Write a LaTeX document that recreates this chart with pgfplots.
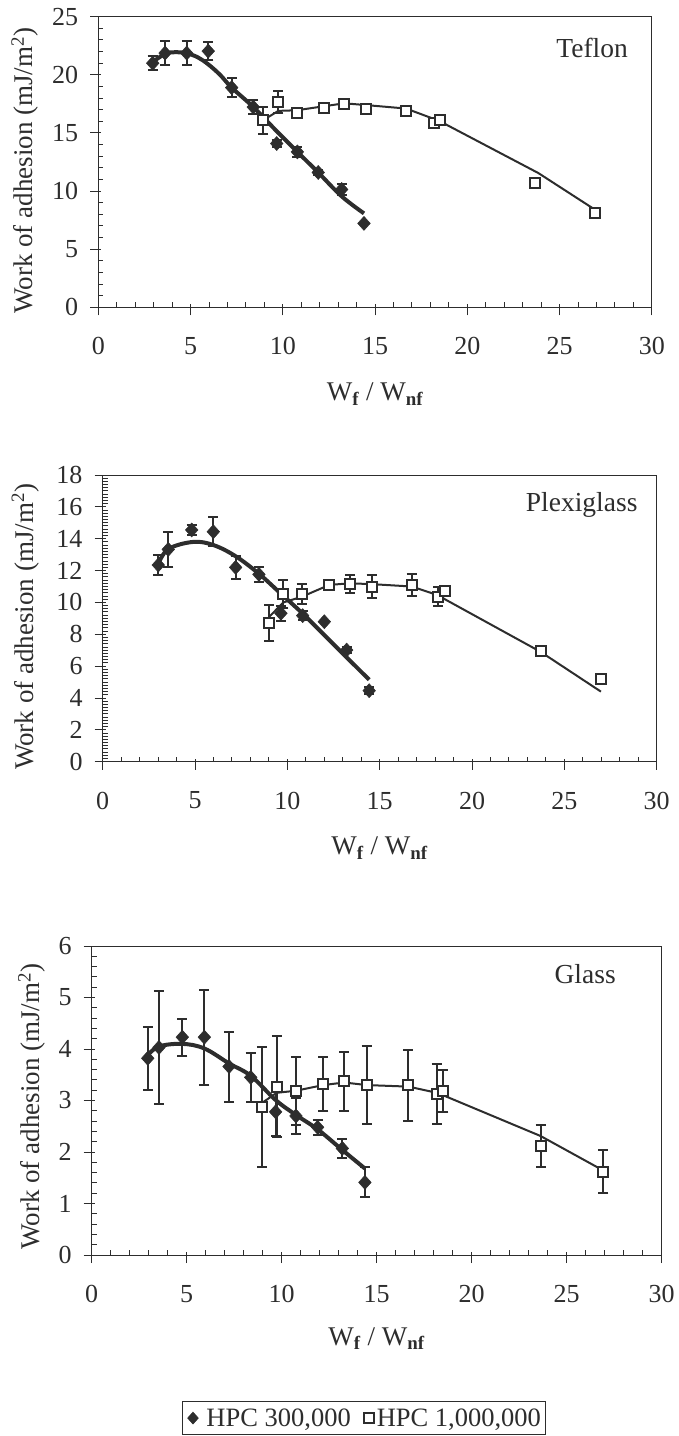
\documentclass[border=0pt]{standalone}
\usepackage{fontspec}
\setmainfont{Liberation Serif}
\usepackage{pgfplots}
\pgfplotsset{compat=1.18}
\definecolor{ink}{RGB}{45,45,45}
\pgfplotsset{
 panel/.style={
  scale only axis, xmin=0, xmax=30, ymin=0, anchor=south west,
  xtick={0,5,...,30}, minor x tick num=4,
  xtick pos=left, ytick pos=left,
  tick align=inside, major tick length=11pt, minor tick length=5pt,
  every major x tick/.append style={yshift=-8pt},
  every major y tick/.append style={xshift=-8pt},
  tick style={ink, line width=1pt},
  axis line style={ink, line width=1pt},
  font=\fontsize{26}{31}\selectfont,
  /pgf/number format/assume math mode=true,
  xticklabel style={inner sep=0pt, yshift=-30pt},
  yticklabel style={inner sep=0pt, xshift=-20pt},
  xlabel={W\textsubscript{\textbf{f}} / W\textsubscript{\textbf{nf}}},
  ylabel={Work of adhesion (mJ/m\textsuperscript{2})},
  label style={font=\fontsize{27}{32}\selectfont, text=ink},
  ticklabel style={text=ink},
 },
 fitA/.style={ink, line width=4pt, smooth, tension=0.6, no marks, forget plot},
 fitB/.style={ink, line width=2pt, no marks, forget plot},
 ptsA/.style={only marks, mark=diamond*, mark size=7pt, mark options={draw=ink, fill=ink, line width=0.5pt, xscale=1.2},
   legend image code/.code={\path (0pt,0pt) (18pt,0pt); \draw[##1, mark size=6pt] plot coordinates {(7pt,0pt)};},
   error bars/.cd, y dir=both, y explicit, error bar style={ink, line width=2pt},
   error mark options={ink, rotate=90, mark size=5pt, line width=2pt}},
 ptsB/.style={only marks, mark=square*, mark size=5pt, mark options={draw=ink, fill=white, line width=2pt},
   legend image code/.code={\path (0pt,0pt) (11pt,0pt); \draw[##1, mark size=5pt] plot coordinates {(6pt,0pt)};},
   error bars/.cd, y dir=both, y explicit, error bar style={ink, line width=2pt},
   error mark options={ink, rotate=90, mark size=5pt, line width=2pt}},
}
\begin{document}
\begin{tikzpicture}
\path[use as bounding box] (0pt,0pt) rectangle (678pt,-1436pt);

% ---------------- Teflon ----------------
\begin{axis}[panel, at={(98.3pt,-307.3pt)}, width=553.5pt, height=290.6pt,
  ymax=25, ytick={0,5,...,25}, minor y tick num=4,
  ylabel style={at={(axis description cs:-0.1325,0.47)}, anchor=center},
  xlabel style={at={(axis description cs:0.5,-0.258)}, anchor=north, inner sep=0pt}]
\addplot[fitB] table {
8.94 16.1
9.76 16.9
10.75 16.95
12.25 17.3
13.33 17.55
14.49 17.4
16.68 17.1
18.2 16.2
18.52 16.0
23.85 11.55
26.92 8.4
};
\addplot[fitA] table {
2.95 21.1
3.62 21.8
4.2 21.95
4.79 21.85
5.4 21.5
5.96 20.9
6.6 20.0
7.23 18.9
8.40 17.23
9.67 15.15
10.79 13.37
11.92 11.6
13.19 9.55
14.40 8.08
};
\addplot[ptsA] table[x index=0, y index=1, y error index=2] {
2.95 21.0 0.6
3.62 21.87 1.0
4.79 21.87 1.0
5.96 22.04 0.8
7.23 18.9 0.8
8.40 17.23 0.6
9.67 14.09 0.3
10.79 13.37 0.4
11.92 11.6 0.2
13.19 10.14 0.5
14.40 7.22 0
};
\addplot[ptsB] table[x index=0, y index=1, y error index=2] {
8.94 16.09 1.15
9.76 17.66 0.95
10.75 16.72 0.3
12.25 17.18 0.2
13.33 17.53 0.2
14.49 17.04 0.4
16.68 16.89 0.4
18.20 15.86 0.2
18.52 16.09 0
23.67 10.70 0
26.92 8.08 0
};
\node[anchor=base east, inner sep=0pt, text=ink, font=\fontsize{27.5}{32}\selectfont] at (axis cs:28.71,21.53) {Teflon};
\end{axis}

% ---------------- Plexiglass ----------------
\begin{axis}[panel, at={(102.7pt,-761.7pt)}, width=554pt, height=286.7pt,
  ymax=18, ytick={0,2,...,18}, minor y tick num=9,
  ylabel style={at={(axis description cs:-0.140,0.47)}, anchor=center},
  xlabel style={at={(axis description cs:0.5,-0.262)}, anchor=north, inner sep=0pt}]
\addplot[fitB] table {
9.02 9.1
9.78 10.0
10.77 10.35
12.27 11.1
13.39 11.2
14.56 11.15
16.73 11.0
18.17 10.45
18.53 10.2
23.71 6.9
26.98 4.4
};
\addplot[fitA] table {
3.01 12.4
3.55 13.35
4.9 13.8
6.0 13.6
7.2 12.9
8.46 11.8
9.65 10.55
10.83 9.3
12.0 7.95
13.21 6.55
14.43 5.15
};
\addplot[ptsA] table[x index=0, y index=1, y error index=2] {
3.01 12.35 0.63
3.55 13.33 1.1
4.82 14.55 0.3
5.99 14.44 0.9
7.20 12.20 0.73
8.46 11.76 0.47
9.65 9.32 0.47
10.83 9.17 0.3
12.00 8.79 0
13.21 7.01 0.2
14.43 4.46 0.2
};
\addplot[ptsB] table[x index=0, y index=1, y error index=2] {
9.02 8.70 1.15
9.78 10.54 0.86
10.77 10.54 0.62
12.27 11.10 0.25
13.39 11.17 0.55
14.56 11.00 0.73
16.73 11.10 0.67
18.17 10.37 0.6
18.53 10.70 0
23.71 6.92 0
26.98 5.19 0
};
\node[anchor=base east, inner sep=0pt, text=ink, font=\fontsize{27.5}{32}\selectfont] at (axis cs:28.97,15.69) {Plexiglass};
\end{axis}

% ---------------- Glass ----------------
\begin{axis}[panel, at={(91.7pt,-1255pt)}, width=570pt, height=309pt,
  ymax=6, ytick={0,1,...,6}, minor y tick num=4,
  ylabel style={at={(axis description cs:-0.105,0.48)}, anchor=center},
  xlabel style={at={(axis description cs:0.5,-0.233)}, anchor=north, inner sep=0pt},
  legend columns=2,
  legend style={at={(axis description cs:0.1584,-0.4725)}, anchor=north west,
    draw=ink, line width=1pt, font=\fontsize{26.5}{31}\selectfont, text=ink,
    inner xsep=3pt, inner ysep=5pt,
    /tikz/every even column/.append style={column sep=10pt}}]
\addplot[fitB] table {
8.95 2.95
9.74 3.15
10.75 3.19
12.19 3.30
13.29 3.35
14.47 3.30
16.67 3.27
18.16 3.15
18.51 3.10
23.63 2.31
26.93 1.64
};
\addplot[fitA] table {
2.95 3.88
3.54 4.05
4.77 4.10
5.93 4.01
7.23 3.72
8.37 3.48
9.68 3.01
10.75 2.72
11.89 2.44
13.19 2.04
14.38 1.68
};
\addplot[ptsA] table[x index=0, y index=1, y error index=2] {
2.95 3.82 0.61
3.54 4.03 1.09
4.77 4.23 0.36
5.93 4.23 0.92
7.23 3.66 0.68
8.37 3.45 0.48
9.68 2.78 0.47
10.75 2.70 0.35
11.89 2.48 0.15
13.19 2.07 0.18
14.38 1.41 0.29
};
\addlegendentry{HPC 300,000}
\addplot[ptsB] table[x index=0, y index=1, y error index=2] {
8.95 2.87 1.16
9.74 3.27 0.98
10.75 3.19 0.66
12.19 3.32 0.53
13.29 3.37 0.57
14.47 3.30 0.75
16.67 3.30 0.69
18.16 3.12 0.58
18.51 3.18 0.41
23.63 2.12 0.41
26.93 1.62 0.42
};
\addlegendentry{HPC 1,000,000}
\node[anchor=base east, inner sep=0pt, text=ink, font=\fontsize{27.5}{32}\selectfont] at (axis cs:27.59,5.28) {Glass};
\end{axis}
\end{tikzpicture}
\end{document}
